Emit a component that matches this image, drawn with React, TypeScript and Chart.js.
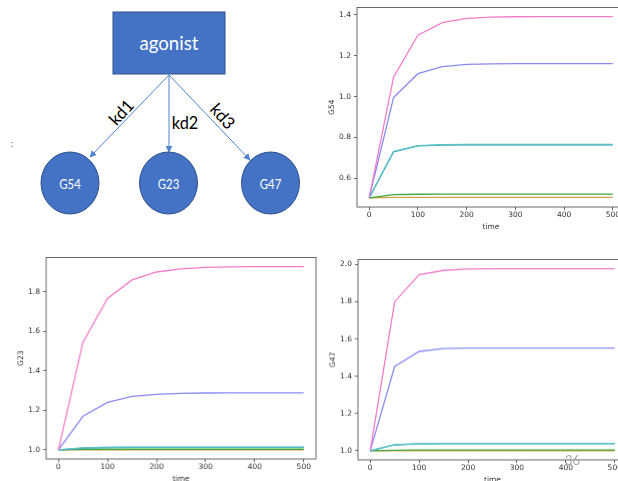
import React, { useEffect, useRef } from "react";
import { Chart, registerables } from "chart.js";

Chart.register(...registerables);

// ---------- data ----------
const time = [0, 50, 100, 150, 200, 250, 300, 350, 400, 450, 500];
const xTicks = [0, 100, 200, 300, 400, 500];

const g54Pink = [0.505, 1.095, 1.3, 1.361, 1.382, 1.388, 1.39, 1.391, 1.391, 1.391, 1.391];
const g54Blue = [0.505, 0.995, 1.112, 1.146, 1.157, 1.16, 1.161, 1.161, 1.161, 1.161, 1.161];
const g54Cyan = [0.505, 0.732, 0.761, 0.765, 0.766, 0.766, 0.766, 0.766, 0.766, 0.766, 0.766];
const g54Teal = [0.505, 0.73, 0.759, 0.763, 0.764, 0.764, 0.764, 0.764, 0.764, 0.764, 0.764];
const g54Green = [0.505, 0.521, 0.523, 0.524, 0.524, 0.524, 0.524, 0.524, 0.524, 0.524, 0.524];
const g54Orange = [0.505, 0.508, 0.508, 0.508, 0.508, 0.508, 0.508, 0.508, 0.508, 0.508, 0.508];
const g54Ticks = [0.6, 0.8, 1.0, 1.2, 1.4];

const g23Pink = [1.0, 1.544, 1.767, 1.861, 1.901, 1.917, 1.924, 1.927, 1.928, 1.928, 1.928];
const g23Blue = [1.0, 1.17, 1.24, 1.271, 1.281, 1.286, 1.288, 1.289, 1.289, 1.289, 1.289];
const g23Cyan = [1.0, 1.01, 1.013, 1.014, 1.014, 1.014, 1.014, 1.014, 1.014, 1.014, 1.014];
const g23Teal = [1.0, 1.008, 1.011, 1.012, 1.012, 1.012, 1.012, 1.012, 1.012, 1.012, 1.012];
const g23Green = [1.0, 1.002, 1.003, 1.003, 1.003, 1.003, 1.003, 1.003, 1.003, 1.003, 1.003];
const g23Orange = [1.0, 1.0, 1.0, 1.0, 1.0, 1.0, 1.0, 1.0, 1.0, 1.0, 1.0];
const g23Ticks = [1.0, 1.2, 1.4, 1.6, 1.8];

const g47Pink = [1.0, 1.8, 1.945, 1.968, 1.975, 1.977, 1.977, 1.977, 1.977, 1.977, 1.977];
const g47Blue = [1.0, 1.452, 1.533, 1.548, 1.551, 1.551, 1.551, 1.551, 1.551, 1.551, 1.551];
const g47Cyan = [1.0, 1.033, 1.038, 1.039, 1.039, 1.039, 1.039, 1.039, 1.039, 1.039, 1.039];
const g47Teal = [1.0, 1.032, 1.037, 1.038, 1.038, 1.038, 1.038, 1.038, 1.038, 1.038, 1.038];
const g47Green = [1.0, 1.003, 1.004, 1.004, 1.004, 1.004, 1.004, 1.004, 1.004, 1.004, 1.004];
const g47Orange = [1.0, 1.001, 1.001, 1.001, 1.001, 1.001, 1.001, 1.001, 1.001, 1.001, 1.001];
const g47Ticks = [1.0, 1.2, 1.4, 1.6, 1.8, 2.0];

// order: pink (top), blue, cyan, teal, green, orange (bottom)
const seriesColors = ["#f27cc8", "#8a8af2", "#5cc0cc", "#35aaa6", "#3ca83c", "#d9a040"];

// ---------- chart component ----------
const FONT = { family: "DejaVu Sans", size: 7.5, lineHeight: 1.2 };
const TICK_COLOR = "#333";
const SPINE = "#444";

const framePlugin = {
  id: "frame",
  afterDraw(chart: any) {
    const { ctx, chartArea: a } = chart;
    ctx.save();
    ctx.strokeStyle = SPINE;
    ctx.lineWidth = 0.8;
    ctx.strokeRect(a.left, a.top, a.right - a.left, a.bottom - a.top);
    ctx.restore();
  },
};

type PlotProps = {
  area: { left: number; top: number; right: number; bottom: number };
  series: number[][];
  yLabel: string;
  yTicks: number[];
};

function Plot({ area, series, yLabel, yTicks }: PlotProps) {
  const ref = useRef<HTMLCanvasElement | null>(null);
  const padL = 50, padT = 6, padR = 10, padB = 30;
  const w = area.right - area.left + padL + padR;
  const h = area.bottom - area.top + padT + padB;

  useEffect(() => {
    if (!ref.current) return;
    const all = series.flat();
    const mn = Math.min(...all), mx = Math.max(...all);
    const m = (mx - mn) * 0.05;
    const chart = new Chart(ref.current, {
      type: "line",
      data: {
        datasets: series.map((vals, i) => ({
          data: time.map((t, j) => ({ x: t, y: vals[j] })),
          borderColor: seriesColors[i],
          backgroundColor: seriesColors[i],
          borderWidth: 1.3,
          pointRadius: 0,
          tension: 0,
          fill: false,
        })),
      },
      options: {
        animation: false,
        responsive: false,
        devicePixelRatio: 1,
        layout: { padding: { left: 0, top: padT, right: padR, bottom: 0 } },
        plugins: { legend: { display: false }, tooltip: { enabled: false } },
        scales: {
          x: {
            type: "linear",
            min: -25,
            max: 525,
            afterBuildTicks: (ax: any) => {
              ax.ticks = xTicks.map((v) => ({ value: v }));
            },
            afterFit: (s: any) => {
              s.height = padB;
            },
            ticks: {
              font: FONT,
              color: TICK_COLOR,
              padding: 1,
              maxRotation: 0,
              autoSkip: false,
              callback: (v: any) => String(v),
            },
            grid: {
              display: true,
              drawOnChartArea: false,
              drawTicks: true,
              tickLength: 3,
              color: SPINE,
              lineWidth: 0.8,
            },
            border: { display: false },
            title: {
              display: true,
              text: "time",
              font: FONT,
              color: TICK_COLOR,
              padding: { top: 0, bottom: padB - 20 - 4.5 },
            },
          },
          y: {
            type: "linear",
            min: mn - m,
            max: mx + m,
            afterBuildTicks: (ax: any) => {
              ax.ticks = yTicks.map((v) => ({ value: v }));
            },
            afterFit: (s: any) => {
              s.width = padL;
            },
            ticks: {
              font: FONT,
              color: TICK_COLOR,
              padding: 3,
              autoSkip: false,
              callback: (v: any) => Number(v).toFixed(1),
            },
            grid: {
              display: true,
              drawOnChartArea: false,
              drawTicks: true,
              tickLength: 3,
              color: SPINE,
              lineWidth: 0.8,
            },
            border: { display: false },
            title: {
              display: true,
              text: yLabel,
              font: FONT,
              color: TICK_COLOR,
              padding: { top: padL - 25.3 - 4.5, bottom: 0 },
            },
          },
        },
      },
      plugins: [framePlugin],
    } as any);
    return () => chart.destroy();
  }, []);

  return (
    <canvas
      ref={ref}
      width={w}
      height={h}
      style={{
        position: "absolute",
        left: area.left - padL,
        top: area.top - padT,
        width: w,
        height: h,
      }}
    />
  );
}

// ---------- diagram ----------
function Diagram() {
  const fill = "#4472c4";
  const stroke = "#2f528f";
  const arrow = "#5082d2";
  const nodes = [
    { cx: 70, label: "G54" },
    { cx: 168.5, label: "G23" },
    { cx: 270.5, label: "G47" },
  ];
  return (
    <svg
      width={310}
      height={240}
      style={{ position: "absolute", left: 0, top: 0 }}
    >
      <defs>
        <marker
          id="ah"
          viewBox="0 0 10 10"
          refX="9"
          refY="5"
          markerWidth="7"
          markerHeight="7"
          orient="auto"
          markerUnits="userSpaceOnUse"
        >
          <path d="M0,0 L10,5 L0,10 z" fill={arrow} />
        </marker>
      </defs>
      <rect x={113} y={12} width={112} height={62} fill={fill} stroke={stroke} strokeWidth={1} />
      <text
        x={169}
        y={50}
        fill="#fff"
        fontFamily="Lato"
        fontSize={20}
        textAnchor="middle"
        textLength={59}
        lengthAdjust="spacingAndGlyphs"
      >
        agonist
      </text>
      <line x1={169} y1={75} x2={90} y2={157} stroke={arrow} strokeWidth={1} markerEnd="url(#ah)" />
      <line x1={169} y1={75} x2={169} y2={152} stroke={arrow} strokeWidth={1} markerEnd="url(#ah)" />
      <line x1={169} y1={75} x2={250} y2={160} stroke={arrow} strokeWidth={1} markerEnd="url(#ah)" />
      {nodes.map((n) => (
        <g key={n.label}>
          <ellipse cx={n.cx} cy={183} rx={29} ry={31} fill={fill} stroke={stroke} strokeWidth={1} />
          <text
            x={n.cx}
            y={188.5}
            fill="#fff"
            fontFamily="Lato"
            fontSize={13}
            textAnchor="middle"
            textLength={21.5}
            lengthAdjust="spacingAndGlyphs"
          >
            {n.label}
          </text>
        </g>
      ))}
      <text
        x={0}
        y={0}
        fontFamily="Lato"
        fontSize={17}
        fill="#000"
        textAnchor="middle"
        dominantBaseline="central"
        transform="translate(121,112) rotate(-48)"
      >
        kd1
      </text>
      <text
        x={185}
        y={122}
        fontFamily="Lato"
        fontSize={17}
        fill="#000"
        textAnchor="middle"
        dominantBaseline="central"
        textLength={26.5}
        lengthAdjust="spacingAndGlyphs"
      >
        kd2
      </text>
      <text
        x={0}
        y={0}
        fontFamily="Lato"
        fontSize={17}
        fill="#000"
        textAnchor="middle"
        dominantBaseline="central"
        transform="translate(223,116) rotate(48)"
      >
        kd3
      </text>
      <text x={12} y={147} fontFamily="Lato" fontSize={9} fill="#555" textAnchor="middle">
        :
      </text>
    </svg>
  );
}

export default function App() {
  return (
    <div
      style={{
        position: "fixed",
        left: 0,
        top: 0,
        width: 618,
        height: 481,
        overflow: "hidden",
        background: "#fff",
      }}
    >
      <Diagram />
      <Plot
        area={{ left: 357, top: 6, right: 625, bottom: 207 }}
        series={[g54Pink, g54Blue, g54Cyan, g54Teal, g54Green, g54Orange]}
        yLabel="G54"
        yTicks={g54Ticks}
      />
      <Plot
        area={{ left: 46, top: 256, right: 315.5, bottom: 459 }}
        series={[g23Pink, g23Blue, g23Cyan, g23Teal, g23Green, g23Orange]}
        yLabel="G23"
        yTicks={g23Ticks}
      />
      <Plot
        area={{ left: 357.5, top: 258, right: 627, bottom: 459.5 }}
        series={[g47Pink, g47Blue, g47Cyan, g47Teal, g47Green, g47Orange]}
        yLabel="G47"
        yTicks={g47Ticks}
      />
      <div
        style={{
          position: "absolute",
          left: 565,
          top: 452,
          fontFamily: "Lato",
          fontSize: 13,
          color: "#a6a6a6",
          lineHeight: "16px",
        }}
      >
        36
      </div>
    </div>
  );
}
